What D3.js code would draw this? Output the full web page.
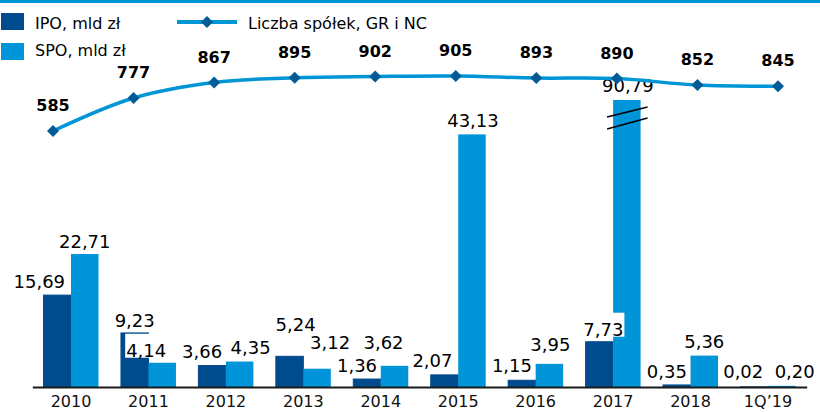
<!DOCTYPE html>
<html>
<head>
<meta charset="utf-8">
<script src="https://d3js.org/d3.v7.min.js"></script>
<style>
  body { margin: 0; background: #fff; }
  text { font-family: "DejaVu Sans", Verdana, sans-serif; }
</style>
</head>
<body>
<div id="chart"></div>
<script>
// ---- data ----
var years = ["2010", "2011", "2012", "2013", "2014", "2015", "2016", "2017", "2018", "1Q\u201919"];
var ipo = [15.69, 9.23, 3.66, 5.24, 1.36, 2.07, 1.15, 7.73, 0.35, 0.02];
var spo = [22.71, 4.14, 4.35, 3.12, 3.62, 43.13, 3.95, 90.79, 5.36, 0.20];
var companies = [585, 777, 867, 895, 902, 905, 893, 890, 852, 845];

// label nudges [dx, dy] from bar centre / bar top (layout only)
var ipoNudge = [[-18,-7],[0,-6],[-10,-8],[6,-25],[-10,-7],[-12,-8],[-10,-8],[4,-6],[-10,-7],[-11,-9]];
var spoNudge = [[0,-6],[-16,-6],[11,-8],[13,-20],[-11,-17],[1,-7],[1,-13],[1,-8],[0,-8],[13,-8]];

var W = 820, H = 412;
var cIpo = "#004b8d", cSpo = "#0094d8", cLine = "#0096d6", cMark = "#005b96";

var pl = d3.formatLocale({decimal: ",", thousands: " ", grouping: [3], currency: ["", " zł"]});
var fmt = pl.format(".2f");

var svg = d3.select("#chart").append("svg")
    .attr("width", W).attr("height", H);

// top band
svg.append("rect").attr("x", 0).attr("y", 0).attr("width", W).attr("height", 3).attr("fill", cLine);

var x = d3.scaleBand().domain(years).range([32.3, 806.7]).paddingInner(0.29).paddingOuter(0.145);
var xs = d3.scaleBand().domain(["ipo", "spo"]).range([0, x.bandwidth()]);
var y = d3.scaleLinear().domain([0, 49]).range([387, 100]).clamp(true);

var xl = d3.scalePoint().domain(years).range([53, 778]);
var yl = d3.scaleLinear().domain([585, 905]).range([131, 76]);

var rows = years.map(function(yr, i) {
  return {year: yr, i: i, vals: [{k: "ipo", v: ipo[i]}, {k: "spo", v: spo[i]}]};
});

// ---- bars ----
var groups = svg.append("g").selectAll("g.grp")
  .data(rows).enter().append("g")
    .attr("class", "grp")
    .attr("transform", function(d) { return "translate(" + x(d.year) + ",0)"; });

groups.selectAll("rect")
  .data(function(d) { return d.vals; })
  .enter().append("rect")
    .attr("x", function(d) { return xs(d.k); })
    .attr("y", function(d) { return y(d.v); })
    .attr("width", xs.bandwidth())
    .attr("height", function(d) { return y(0) - y(d.v); })
    .attr("fill", function(d) { return d.k === "ipo" ? cIpo : cSpo; })
    .attr("stroke", function(d) { return d.k === "ipo" ? cIpo : "none"; })
    .attr("stroke-width", 1);

// break marks on bars that run past the scale
rows.forEach(function(r) {
  r.vals.forEach(function(d) {
    if (d.v <= y.domain()[1]) return;
    var bx = x(r.year) + xs(d.k), top = y(d.v);
    [[17, 7], [29, 18]].forEach(function(o) {
      svg.append("line")
        .attr("x1", bx - 6).attr("y1", top + o[0])
        .attr("x2", bx + xs.bandwidth() + 7).attr("y2", top + o[1])
        .attr("stroke", "#000").attr("stroke-width", 1.6);
    });
  });
});

// ---- bar labels (white boxes first, then all texts on top) ----
var boxG = svg.append("g");
var labG = svg.append("g");
rows.forEach(function(r) {
  r.vals.forEach(function(d) {
    var nd = (d.k === "ipo" ? ipoNudge : spoNudge)[r.i];
    var cx = x(r.year) + xs(d.k) + xs.bandwidth() / 2 + nd[0];
    var by = y(d.v) + nd[1];
    var t = labG.append("text")
      .attr("x", cx).attr("y", by)
      .attr("text-anchor", "middle")
      .attr("font-size", 18)
      .attr("fill", "#000")
      .text(fmt(d.v));
    var bb = t.node().getBBox();
    boxG.append("rect")
      .attr("x", bb.x - 1).attr("y", by - 23)
      .attr("width", bb.width + 2).attr("height", 24)
      .attr("fill", "#fff");
  });
});

// ---- x axis ----
var ax = svg.append("g")
  .attr("transform", "translate(0,387)")
  .call(d3.axisBottom(x).tickSize(0).tickPadding(9));
ax.select(".domain").attr("stroke", "#1a1a1a").attr("stroke-width", 2);
ax.selectAll("text")
  .attr("font-size", 16)
  .attr("fill", "#111")
  .style("font-family", "'DejaVu Sans', Verdana, sans-serif");

// ---- line ----
var line = d3.line()
  .x(function(d, i) { return xl(years[i]); })
  .y(function(d) { return yl(d); })
  .curve(d3.curveCatmullRom.alpha(0.5));

svg.append("path")
  .datum(companies)
  .attr("d", line)
  .attr("fill", "none")
  .attr("stroke", cLine)
  .attr("stroke-width", 3.5);

var diamond = d3.symbol().type(d3.symbolSquare).size(72);
svg.append("g").selectAll("path")
  .data(companies).enter().append("path")
    .attr("d", diamond)
    .attr("transform", function(d, i) { return "translate(" + xl(years[i]) + "," + yl(d) + ") rotate(45)"; })
    .attr("fill", cMark);

svg.append("g").selectAll("text")
  .data(companies).enter().append("text")
    .attr("x", function(d, i) { return xl(years[i]); })
    .attr("y", function(d) { return yl(d) - 20; })
    .attr("text-anchor", "middle")
    .attr("font-size", 16)
    .attr("font-weight", "bold")
    .attr("fill", "#000")
    .text(function(d) { return d; });

// ---- legend ----
var lg = svg.append("g");
lg.append("rect").attr("x", 1).attr("y", 13).attr("width", 23).attr("height", 17).attr("fill", cIpo);
lg.append("text").attr("x", 35).attr("y", 29).attr("font-size", 16).text("IPO, mld zł");
lg.append("rect").attr("x", 1).attr("y", 43).attr("width", 23).attr("height", 17).attr("fill", cSpo);
lg.append("text").attr("x", 35).attr("y", 56).attr("font-size", 16).text("SPO, mld zł");

lg.append("line").attr("x1", 177).attr("x2", 237).attr("y1", 22).attr("y2", 22)
  .attr("stroke", cLine).attr("stroke-width", 4);
lg.append("path").attr("d", diamond).attr("transform", "translate(207,22) rotate(45)").attr("fill", cMark);
lg.append("text").attr("x", 248).attr("y", 29).attr("font-size", 16).text("Liczba spółek, GR i NC");
</script>
</body>
</html>
